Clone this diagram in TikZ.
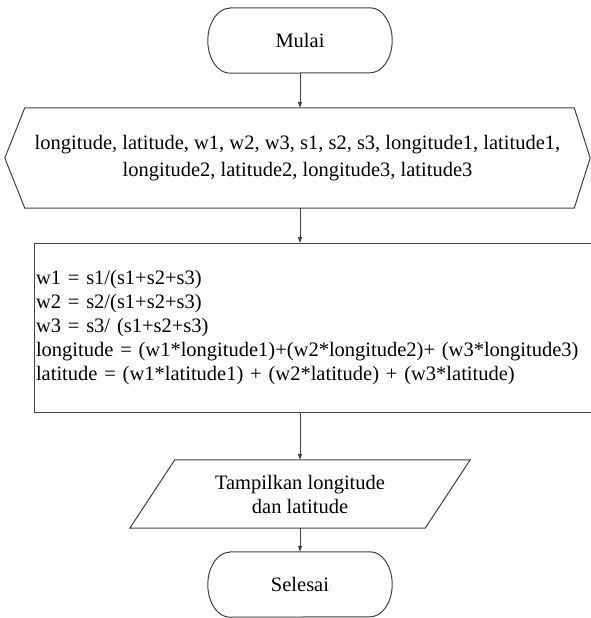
\documentclass[tikz,border=0pt]{standalone}
\usepackage{fontspec}
\setmainfont{Liberation Serif}
\usetikzlibrary{arrows.meta,positioning,calc}
\definecolor{abu}{HTML}{404040}
% outline of a start/end terminal round a named node
\newcommand{\terminal}[1]{%
  \draw[tepi] ([xshift=22pt]#1.north west) -- ([xshift=-22pt]#1.north east)
    arc[start angle=90, end angle=-90, x radius=22pt, y radius=32.5pt]
    -- ([xshift=22pt]#1.south west)
    arc[start angle=270, end angle=90, x radius=22pt, y radius=32.5pt] -- cycle;}

\begin{document}
\begin{tikzpicture}[
  x=1pt, y=1pt,
  tepi/.style={draw=abu, line width=1pt},
  teks/.style={font=\fontsize{20.5}{24}\selectfont, align=center, inner sep=2pt},
  ujung/.style={teks, minimum width=184pt, minimum height=65pt},
  kotak/.style={tepi, font=\fontsize{20.5}{24}\selectfont, align=left, inner xsep=1.5pt},
  arr/.style={tepi, -{Triangle[length=6pt, width=4pt]}}
]
  \useasboundingbox (0,0) rectangle (591,-618);

  \node[ujung] (mulai) at (300,-40.5) {Mulai};
  \node[teks, font=\fontsize{20.5}{27}\selectfont, minimum width=585pt, minimum height=100pt] (input) at (297.5,-158)
    {longitude, latitude, w1, w2, w3, s1, s2, s3, longitude1, latitude1,\\longitude2, latitude2, longitude3, latitude3};
  \node[kotak, anchor=north west, text width=556pt, minimum height=169pt] (proses) at (34,-243)
    {w1 = s1/(s1+s2+s3)\\
     w2 = s2/(s1+s2+s3)\\
     w3 = s3/ (s1+s2+s3)\\
     longitude = (w1*longitude1)+(w2*longitude2)+ (w3*longitude3)\\
     latitude = (w1*latitude1) + (w2*latitude) + (w3*latitude)};
  \node[teks, minimum width=295pt, minimum height=68pt] (tampil) at (300,-494)
    {Tampilkan longitude\\dan latitude};
  \node[ujung] (selesai) at (300,-584.5) {Selesai};

  % shapes
  \terminal{mulai}
  \terminal{selesai}
  \draw[tepi] (input.west) -- ([xshift=20pt]input.north west) -- ([xshift=-16pt]input.north east)
    -- (input.east) -- ([xshift=-16pt]input.south east) -- ([xshift=20pt]input.south west) -- cycle;
  \draw[tepi] ([xshift=-22.5pt]tampil.south west) -- ([xshift=22.5pt]tampil.north west)
    -- ([xshift=22.5pt]tampil.north east) -- ([xshift=-22.5pt]tampil.south east) -- cycle;

  % flow
  \draw[arr] (mulai.south) -- (mulai.south |- input.north);
  \draw[arr] (input.south -| mulai) -- (mulai |- proses.north);
  \draw[arr] (proses.south -| mulai) -- (tampil.north);
  \draw[arr] (tampil.south) -- (selesai.north);
\end{tikzpicture}
\end{document}
